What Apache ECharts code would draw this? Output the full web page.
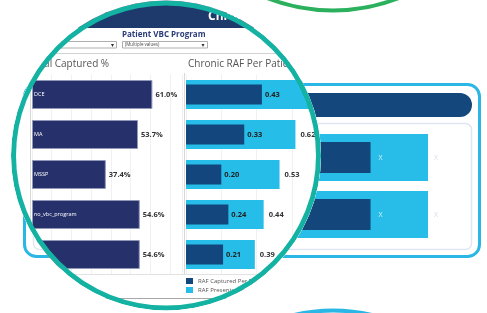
<!DOCTYPE html>
<html><head><meta charset="utf-8">
<script src="https://cdn.jsdelivr.net/npm/echarts@6/dist/echarts.min.js"></script>
<style>
html,body{margin:0;padding:0;background:#fff;overflow:hidden;width:487px;height:313px}
#outer,#inner{position:absolute;left:0;top:0;width:487px;height:313px}
#inner{clip-path:circle(155px at 166px 155.5px);background:#fff}
</style></head><body>
<div id="outer"></div><div id="inner"></div>
<script>
// ---- data ----
const programs = ['DCE', 'MA', 'MSSP', 'no_vbc_program', ''];
const capturedPct = [61.0, 53.7, 37.4, 54.6, 54.6];
const rafCaptured = [0.43, 0.33, 0.20, 0.24, 0.21];
const rafPresented = [0.72, 0.62, 0.53, 0.44, 0.39];
const outerRows = ['row1', 'row2'];
const outerPresented = [100, 100];
const outerCaptured = [85, 85];
const legendNames = ['RAF Captured Per Patient', 'RAF Presented Per Patient'];

const FONT = 'Open Sans';

// ---- background scene (outside the magnifier) ----
const outer = echarts.init(document.getElementById('outer'));
outer.setOption({
  animation: false,
  backgroundColor: '#ffffff',
  textStyle: { fontFamily: FONT },
  graphic: [
    { type: 'rect', z: 0, shape: { x: 24.5, y: 84.5, width: 455, height: 172, r: 12 },
      style: { fill: '#ffffff', stroke: '#2ab7e5', lineWidth: 3 } },
    { type: 'rect', z: 1, shape: { x: 30, y: 93, width: 442, height: 24, r: 12 },
      style: { fill: '#14477b' } },
    { type: 'rect', z: 1, shape: { x: 33.5, y: 123.5, width: 438, height: 126, r: 6 },
      style: { fill: 'none', stroke: '#dde6f1', lineWidth: 1.5 } },
    { type: 'circle', z: 1, shape: { cx: 333, cy: -169.5, r: 180 },
      style: { fill: 'none', stroke: '#2bb15d', lineWidth: 4 } },
    { type: 'circle', z: 1, shape: { cx: 333, cy: 480.5, r: 170 },
      style: { fill: 'none', stroke: '#2ab7e5', lineWidth: 4 } }
  ],
  grid: { left: 45, top: 129, width: 383, height: 114 },
  xAxis: { type: 'value', min: 0, max: 100, show: false },
  yAxis: [
    { type: 'category', data: outerRows, show: false },
    { type: 'category', data: outerRows, show: false }
  ],
  series: [
    { type: 'bar', yAxisIndex: 0, data: outerPresented, barWidth: 47, z: 3,
      itemStyle: { color: '#27bde8' },
      label: { show: true, position: 'right', distance: 6, formatter: 'X', color: '#d6deea', fontSize: 7, fontFamily: FONT } },
    { type: 'bar', yAxisIndex: 1, data: outerCaptured, barWidth: 31, z: 4,
      itemStyle: { color: '#13467a' },
      label: { show: true, position: 'right', distance: 8, formatter: 'X', color: 'rgba(255,255,255,0.8)', fontSize: 7, fontFamily: FONT } }
  ]
});

// ---- magnified dashboard (clipped to circle) ----
const inner = echarts.init(document.getElementById('inner'));
const line = (x1, y1, x2, y2, c, w) => ({ type: 'line', z: 1, shape: { x1, y1, x2, y2 }, style: { stroke: c, lineWidth: w || 1 } });
inner.setOption({
  animation: false,
  backgroundColor: '#ffffff',
  textStyle: { fontFamily: FONT },
  graphic: [
    { type: 'rect', z: 0, shape: { x: 0, y: 0, width: 487, height: 28 }, style: { fill: '#1e3a6d' } },
    { type: 'text', z: 1, x: 208, y: 17, style: { text: 'Chronic Conditions', fill: '#ffffff', font: 'bold 12px "Open Sans"', verticalAlign: 'middle' } },
    { type: 'text', z: 1, x: 122, y: 35, style: { text: 'Patient VBC Program', fill: '#2b3c7b', font: 'bold 8px "Open Sans"', verticalAlign: 'middle' } },
    { type: 'rect', z: 1, shape: { x: 10.5, y: 41.5, width: 106, height: 6.5 }, style: { fill: '#fff', stroke: '#9a9a9a', lineWidth: 0.8 } },
    { type: 'text', z: 2, x: 111, y: 45, style: { text: '▾', fill: '#333', font: '6px "DejaVu Sans"', verticalAlign: 'middle' } },
    { type: 'rect', z: 1, shape: { x: 122.5, y: 41.5, width: 85, height: 6.5 }, style: { fill: '#fff', stroke: '#9a9a9a', lineWidth: 0.8 } },
    { type: 'text', z: 2, x: 125, y: 45, style: { text: '(Multiple values)', fill: '#444', font: '4.5px "Open Sans"', verticalAlign: 'middle' } },
    { type: 'text', z: 2, x: 201.5, y: 45, style: { text: '▾', fill: '#333', font: '6px "DejaVu Sans"', verticalAlign: 'middle' } },
    line(0, 53.5, 487, 53.5, '#d2d2d2'),
    { type: 'text', z: 1, x: 29, y: 64, style: { text: 'Total Captured %', fill: '#555555', font: '10px "Open Sans"', verticalAlign: 'middle' } },
    { type: 'text', z: 1, x: 188, y: 64, style: { text: 'Chronic RAF Per Patient', fill: '#555555', font: '10px "Open Sans"', verticalAlign: 'middle' } },
    line(30.5, 75, 30.5, 274, '#d8d8d8'),
    line(184.5, 73, 184.5, 274, '#d8d8d8'),
    line(30, 274.5, 487, 274.5, '#e2e2e2'),
    line(0, 298.5, 487, 298.5, '#a8a8a8'),
    { type: 'circle', z: 100, shape: { cx: 166, cy: 155.5, r: 152.5 }, style: { fill: 'none', stroke: '#14b2a2', lineWidth: 5 } }
  ],
  grid: [
    { left: 32, top: 74.5, width: 150, height: 200 },
    { left: 186, top: 74.5, width: 176.5, height: 200 }
  ],
  xAxis: [
    { type: 'value', gridIndex: 0, min: 0, max: 76, interval: 10,
      axisLabel: { show: false }, axisLine: { show: false }, axisTick: { show: false },
      splitLine: { show: true, lineStyle: { color: '#f1f1f1', width: 1 } } },
    { type: 'value', gridIndex: 1, min: 0, max: 1, interval: 0.2,
      axisLabel: { show: false }, axisLine: { show: false }, axisTick: { show: false },
      splitLine: { show: true, lineStyle: { color: '#f1f1f1', width: 1 } } }
  ],
  yAxis: [
    { type: 'category', gridIndex: 0, data: programs, inverse: true, z: 10,
      axisLine: { show: false }, axisTick: { show: false }, splitLine: { show: false },
      axisLabel: { inside: true, margin: 2, color: '#ffffff', fontSize: 5.5, fontFamily: FONT } },
    { type: 'category', gridIndex: 1, data: programs, inverse: true, show: false },
    { type: 'category', gridIndex: 1, data: programs, inverse: true, show: false }
  ],
  legend: {
    data: legendNames, orient: 'vertical', left: 186, top: 278, padding: 0,
    itemWidth: 7, itemHeight: 6, itemGap: 3, icon: 'rect',
    textStyle: { fontSize: 6, color: '#555', fontFamily: FONT }
  },
  series: [
    { type: 'bar', name: 'Total Captured %', xAxisIndex: 0, yAxisIndex: 0, data: capturedPct, barWidth: 29, z: 2,
      itemStyle: { color: '#26306b', borderColor: '#9299b8', borderWidth: 1 },
      label: { show: true, position: 'right', distance: 3, color: '#333', fontSize: 7.5, fontWeight: 'bold', fontFamily: FONT,
        formatter: p => p.value.toFixed(1) + '%' } },
    { type: 'bar', name: legendNames[1], xAxisIndex: 1, yAxisIndex: 1, data: rafPresented, barWidth: 29, z: 2,
      itemStyle: { color: '#27bde9' },
      label: { show: true, position: 'right', distance: 5, color: '#333', fontSize: 7.5, fontWeight: 'bold', fontFamily: FONT,
        formatter: p => p.value.toFixed(2) } },
    { type: 'bar', name: legendNames[0], xAxisIndex: 1, yAxisIndex: 2, data: rafCaptured, barWidth: 20, z: 3,
      itemStyle: { color: '#13467c' },
      label: { show: true, position: 'right', distance: 3, color: '#222', fontSize: 7.5, fontWeight: 'bold', fontFamily: FONT,
        formatter: p => p.value.toFixed(2) } }
  ]
});
</script>
</body></html>
